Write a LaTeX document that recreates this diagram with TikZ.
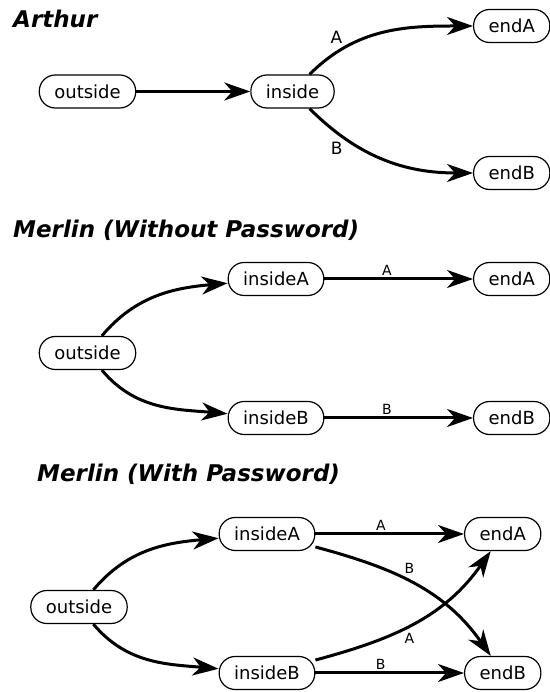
\documentclass[tikz,border=0pt]{standalone}
\usepackage{fontspec}
\setmainfont{DejaVu Sans}
\usetikzlibrary{arrows.meta}

\tikzset{
  state/.style={draw, line width=1.2pt, rounded corners=16pt, minimum height=33pt,
    inner xsep=15pt, inner ysep=0pt, font=\fontsize{18}{20}\selectfont},
  trans/.style={line width=3pt, -{Stealth[length=26pt 0, width=18pt 0, inset=8pt 0]}},
  title/.style={anchor=base west, inner sep=0pt, font=\fontsize{23}{25}\selectfont\bfseries\itshape},
  lbl/.style={inner sep=2pt, font=\fontsize{14}{16}\selectfont},
  biglbl/.style={inner sep=2pt, font=\fontsize{17}{19}\selectfont},
}

\begin{document}
\begin{tikzpicture}[x=1pt, y=1pt]
  \useasboundingbox (0,0) rectangle (549,692);

  % --- Arthur ---
  \node[title] (artTitle) at (13,664) {Arthur};
  \node[state] (artOut) at (87.5,600.5) {outside};
  \node[state] (artIn) at (292.5,600.5) {inside};
  \node[state, anchor=west] (artEndA) at (473,666) {endA};
  \node[state, anchor=west] (artEndB) at (473,519) {endB};
  \draw[trans] (artOut) -- (artIn);
  \draw[trans] (artIn) to[out=45, in=180] node[biglbl, pos=.25, above left] {A} (artEndA);
  \draw[trans] (artIn) to[out=-45, in=180] node[biglbl, pos=.25, below left] {B} (artEndB);

  % --- Merlin without password ---
  \node[title] (woTitle) at (13,454) {Merlin (Without Password)};
  \node[state] (woOut) at (87.5,339) {outside};
  \node[state] (woInA) at (276,413) {insideA};
  \node[state] (woInB) at (276,274) {insideB};
  \node[state, anchor=west] (woEndA) at (473,413) {endA};
  \node[state, anchor=west] (woEndB) at (473,274) {endB};
  \draw[trans] (woOut) to[out=50, in=185] (woInA);
  \draw[trans] (woOut) to[out=-50, in=175] (woInB);
  \draw[trans] (woInA) -- node[lbl, pos=.42, above] {A} (woEndA);
  \draw[trans] (woInB) -- node[lbl, pos=.42, above] {B} (woEndB);

  % --- Merlin with password ---
  \node[title] (wpTitle) at (37,210) {Merlin (With Password)};
  \node[state] (wpOut) at (79,85) {outside};
  \node[state] (wpInA) at (267,158) {insideA};
  \node[state] (wpInB) at (267,19) {insideB};
  \node[state, anchor=west] (wpEndA) at (464,158) {endA};
  \node[state, anchor=west] (wpEndB) at (464,19) {endB};
  \draw[trans] (wpOut) to[out=50, in=185] (wpInA);
  \draw[trans] (wpOut) to[out=-50, in=175] (wpInB);
  \draw[trans] (wpInA) -- node[lbl, pos=.44, above] {A} (wpEndA);
  \draw[trans] (wpInB) -- node[lbl, pos=.44, above] {B} (wpEndB);
  \draw[trans] (wpInA) to[out=-15, in=125] node[lbl, pos=.42, above right] {B} (wpEndB);
  \draw[trans] (wpInB) to[out=15, in=-125] node[lbl, pos=.42, below right] {A} (wpEndA);
\end{tikzpicture}
\end{document}
